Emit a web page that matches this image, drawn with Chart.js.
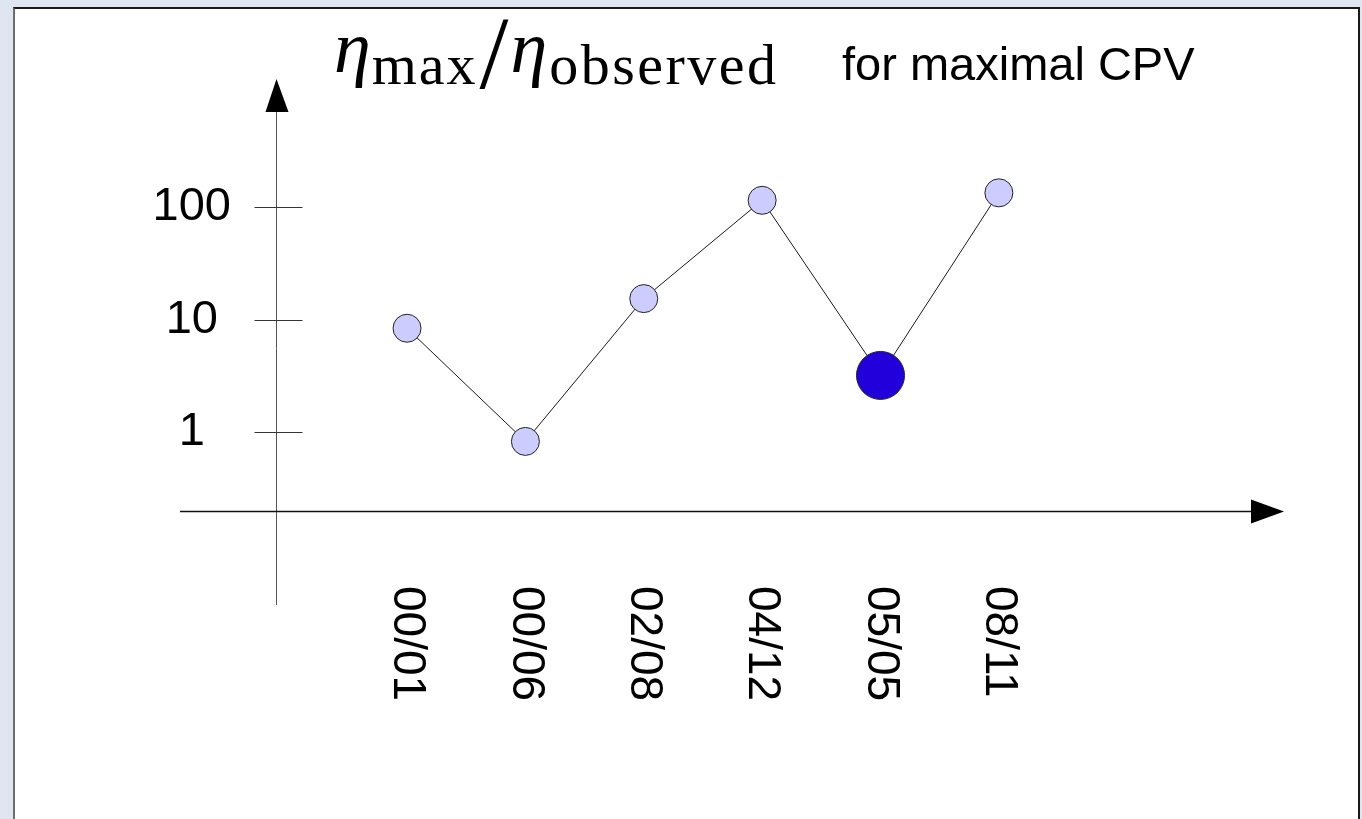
<!DOCTYPE html>
<html>
<head>
<meta charset="utf-8">
<title>eta max / eta observed</title>
<script src="https://cdn.jsdelivr.net/npm/chart.js@4.4.1/dist/chart.umd.min.js"></script>
<style>
  body { margin: 0; width: 1362px; height: 819px; overflow: hidden; background: #dfe6f1; position: relative; }
  #panel { position: absolute; left: 13px; top: 7px; width: 1343px; height: 830px; background: #fff;
           border-top: 2px solid #1a1a1a; border-left: 2px solid #6e6e6e; border-right: 2px solid #1a1a1a; }
  #chart { position: absolute; left: 0; top: 0; }
</style>
</head>
<body>
<div id="panel"></div>
<canvas id="chart" width="1362" height="819"></canvas>
<script>
// data (y is on a log scale)
const dates = ['00/01', '00/06', '02/08', '04/12', '05/05', '08/11'];
const ratio = [8.4, 0.83, 15.4, 115, 3.2, 134];
const yTicks = [1, 10, 100];
const highlight = '05/05';   // the big dark point

const fontSans = '"Liberation Sans", Arial, sans-serif';
const fontSerif = '"Liberation Serif", "Times New Roman", serif';

// axes with arrows, tick marks across the y axis, rotated date labels, title
const decor = {
    id: 'decor',
    beforeDatasetsDraw(chart) {
        const ctx = chart.ctx;
        const area = chart.chartArea;
        const ys = chart.scales.y;
        const x0 = area.left + 0.5;
        const y0 = area.bottom + 0.5;
        ctx.save();

        // y axis
        ctx.strokeStyle = '#555';
        ctx.lineWidth = 1;
        ctx.beginPath();
        ctx.moveTo(x0, area.top - 20);
        ctx.lineTo(x0, area.bottom + 94);
        ctx.stroke();
        ctx.fillStyle = '#000';
        ctx.beginPath();
        ctx.moveTo(x0, area.top - 33);
        ctx.lineTo(x0 - 11, area.top);
        ctx.lineTo(x0 + 12, area.top);
        ctx.closePath();
        ctx.fill();

        // tick marks crossing the y axis
        ctx.strokeStyle = '#333';
        for (const t of ys.ticks) {
            const py = Math.round(ys.getPixelForValue(t.value)) + 0.5;
            ctx.beginPath();
            ctx.moveTo(x0 - 22, py);
            ctx.lineTo(x0 + 26, py);
            ctx.stroke();
        }

        // x axis
        ctx.strokeStyle = '#111';
        ctx.lineWidth = 1.5;
        ctx.beginPath();
        ctx.moveTo(area.left - 96, y0);
        ctx.lineTo(area.right, y0);
        ctx.stroke();
        ctx.beginPath();
        ctx.moveTo(area.right + 33, y0);
        ctx.lineTo(area.right, y0 - 12);
        ctx.lineTo(area.right, y0 + 12);
        ctx.closePath();
        ctx.fill();
        ctx.restore();
    },
    afterDraw(chart) {
        const ctx = chart.ctx;
        const xs = chart.scales.x;
        const area = chart.chartArea;
        ctx.save();
        ctx.fillStyle = '#000';

        // date labels, reading top to bottom
        ctx.font = '46px ' + fontSans;
        ctx.textAlign = 'left';
        ctx.textBaseline = 'middle';
        dates.forEach((d, i) => {
            ctx.save();
            ctx.translate(xs.getPixelForValue(i), area.bottom + 75);
            ctx.rotate(Math.PI / 2);
            ctx.fillText(d, 0, 0);
            ctx.restore();
        });

        // title: eta_max / eta_observed  for maximal CPV
        ctx.textBaseline = 'alphabetic';
        let x = 334;
        ctx.font = 'italic 74px ' + fontSerif;
        ctx.fillText('η', x, 72);
        x += ctx.measureText('η').width + 1;
        ctx.font = '58px ' + fontSerif;
        ctx.letterSpacing = '2px';
        ctx.fillText('max', x, 84);
        x += ctx.measureText('max').width + 2;
        ctx.letterSpacing = '0px';
        ctx.font = '104px ' + fontSerif;
        ctx.fillText('/', x, 88);
        x += ctx.measureText('/').width + 2;
        ctx.font = 'italic 74px ' + fontSerif;
        ctx.fillText('η', x, 72);
        x += ctx.measureText('η').width + 2;
        ctx.font = '58px ' + fontSerif;
        ctx.letterSpacing = '2.5px';
        ctx.fillText('observed', x, 84);
        ctx.letterSpacing = '0px';

        ctx.font = '47px ' + fontSans;
        ctx.fillText('for maximal CPV', 842, 80);
        ctx.restore();
    }
};

new Chart(document.getElementById('chart'), {
    type: 'line',
    data: {
        datasets: [{
            data: ratio.map((v, i) => ({ x: i, y: v })),
            borderColor: '#1a1a1a',
            borderWidth: 1,
            tension: 0,
            clip: false,
            pointRadius: c => dates[c.dataIndex] === highlight ? 24 : 14,
            pointHoverRadius: c => dates[c.dataIndex] === highlight ? 24 : 14,
            pointBackgroundColor: c => dates[c.dataIndex] === highlight ? '#2200dc' : '#ccccff',
            pointBorderColor: '#222',
            pointBorderWidth: 1
        }]
    },
    options: {
        responsive: false,
        animation: false,
        devicePixelRatio: 1,
        layout: { padding: { left: 0, top: 112, right: 111, bottom: 308 } },
        plugins: { legend: { display: false }, tooltip: { enabled: false } },
        scales: {
            x: {
                type: 'linear',
                display: false,
                min: -1.107,
                max: 7.13
            },
            y: {
                type: 'logarithmic',
                min: 0.2,
                max: 700,
                grid: { display: false, drawTicks: false },
                border: { display: false },
                afterBuildTicks: s => { s.ticks = yTicks.map(v => ({ value: v })); },
                afterFit: s => { s.width = 276; },
                ticks: {
                    color: '#000',
                    crossAlign: 'center',
                    padding: 45,
                    font: { family: fontSans, size: 47 },
                    callback: v => String(v)
                }
            }
        }
    },
    plugins: [decor]
});
</script>
</body>
</html>
